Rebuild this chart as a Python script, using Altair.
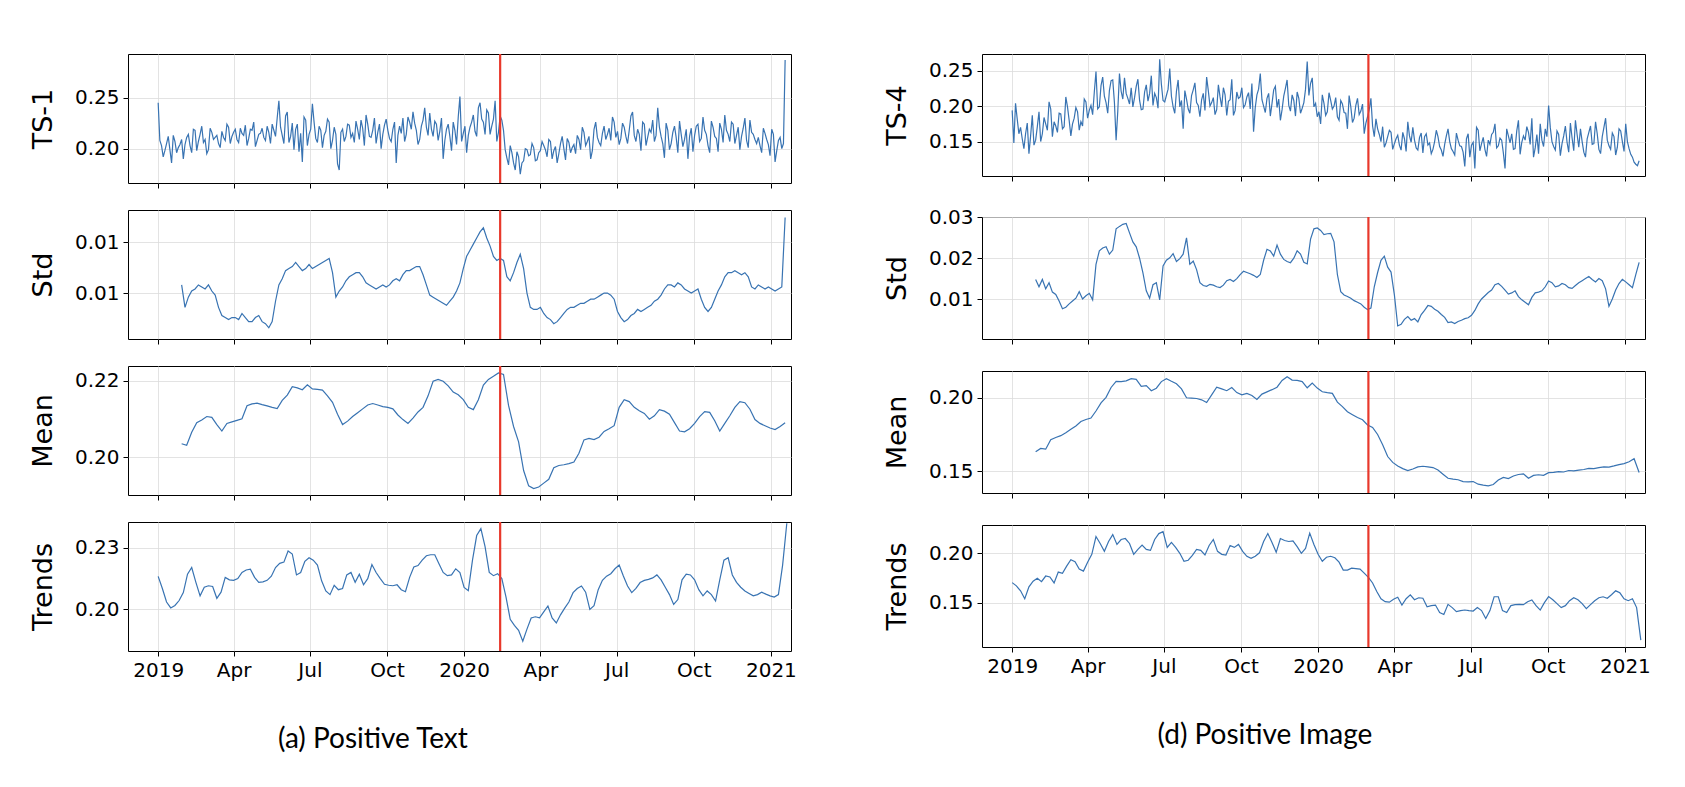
import altair as alt
import pandas as pd

# ---------------- values ----------------
# (a) Positive Text
# TS-1, in units of 1e-3: ts1 on days 0, 4, 8, ... from 2019-01-01, ts1_mid on days 2, 6, 10, ...
ts1 = [245, 203, 198, 212, 186, 207, 201, 209,
       204, 214, 196, 218, 207, 222, 209, 199, 216, 211, 205,
       217, 208, 221, 212, 219, 206, 215, 223, 210, 218, 202, 214, 220, 208, 216, 224, 212,
       247,
       213, 232, 206, 225, 219, 197, 187, 228, 214, 244,
       210, 222, 201, 217, 226, 208, 214, 179, 219, 212, 223,
       215, 227, 209, 220, 233, 212, 218, 205, 224, 214, 229, 210, 219, 186,
       222, 230, 214, 226, 236, 218, 209, 228, 221, 235, 212, 224, 217,
       190, 219, 212, 226, 204, 251, 215, 196,
       221, 233, 212, 245, 226, 238, 214, 229, 207, 232, 218,
       191, 203, 186, 197, 175, 188, 199,
       194, 201, 189, 198,
       203, 192, 207, 198, 186, 205, 200, 210, 196,
       204, 213, 199, 216, 207, 190, 219, 211, 203, 222,
       214, 208, 226, 217, 210, 221, 205, 232, 213, 219, 198, 224, 211, 216, 207, 240,
       212, 191, 218, 205, 222, 196, 214, 209, 190, 220, 213,
       224, 210, 218, 203, 227, 212, 197, 219,
       233, 214, 226, 205, 221, 212, 230, 201, 216, 209,
       211, 196, 215, 204, 219, 187, 208, 200, 287]
ts1_mid = [208, 192, 205, 199, 213, 196, 204, 190,
           211, 203, 219, 198, 214, 206, 195, 220, 209, 213, 201,
           211, 224, 205, 216, 209, 220, 213, 203, 219, 226, 208, 215, 211, 222, 205, 218, 230,
           221, 205, 236, 212, 199, 224, 215, 231, 203, 219, 226,
           206, 218, 213, 229, 200, 221, 185, 216, 207, 224, 211,
           206, 219, 228, 203, 224, 211, 230, 216, 200, 223, 218, 207, 226, 213,
           215, 207, 231, 219, 225, 204, 222, 240, 213, 219, 227, 208, 230,
           208, 224, 198, 218, 231, 207, 222, 213,
           226, 217, 240, 229, 214, 235, 222, 247, 216, 228, 199,
           184, 196, 179, 192, 186, 200, 193,
           205, 188, 196, 207,
           199, 209, 190, 202, 195, 212, 189, 206, 201,
           195, 209, 221, 203, 212, 198, 226, 206, 215, 209,
           220, 231, 211, 204, 225, 212, 218, 236, 207, 214, 226, 203, 219, 228, 213, 221,
           205, 225, 199, 216, 211, 227, 202, 219, 212, 197, 222,
           207, 231, 214, 196, 221, 210, 225, 206,
           218, 207, 224, 213, 199, 220, 208, 228, 214, 205,
           203, 220, 209, 193, 214, 198, 211, 205]
# Std: every 4 days from 2019-01-29, in units of 1e-4
std1 = [104, 93, 98, 101, 102, 104, 103, 102, 104, 101, 99, 93, 89, 88, 87, 88, 88, 87, 90, 88,
        86, 86, 88, 89, 86, 85, 83, 86, 96, 104, 107, 111, 112, 113, 115, 113, 111, 112, 114, 112,
        113, 114, 115, 116, 117, 110, 98, 101, 103, 106, 108, 109, 110, 110, 108, 105, 104, 103, 102, 103,
        104, 103, 104, 106, 107, 106, 109, 111, 111, 112, 113, 113, 109, 104, 99, 98, 97, 96, 95, 94,
        96, 98, 101, 105, 112, 118, 121, 124, 127, 130, 132, 127, 123, 118, 116, 117, 116, 108, 106, 110,
        115, 119, 112, 100, 93, 92, 92, 93, 90, 88, 87, 85, 86, 88, 90, 92, 93, 93, 94, 95,
        95, 96, 97, 97, 98, 99, 100, 100, 99, 97, 91, 88, 86, 87, 89, 90, 92, 91, 92, 93,
        94, 96, 97, 99, 102, 104, 104, 103, 105, 104, 102, 101, 100, 101, 102, 97, 93, 91, 93, 97,
        101, 104, 108, 110, 110, 111, 110, 109, 110, 108, 103, 102, 104, 103, 102, 103, 102, 101, 102, 103,
        137]
# Mean: every 6 days from 2019-01-29, in units of 1e-4
mean1 = [2035, 2031, 2065, 2090, 2097, 2106, 2104, 2085, 2068, 2088,
         2092, 2096, 2100, 2134, 2139, 2141, 2137, 2134, 2130, 2127,
         2148, 2162, 2184, 2181, 2176, 2189, 2178, 2177, 2175, 2160,
         2143, 2112, 2085, 2094, 2106, 2116, 2126, 2136, 2140, 2136,
         2132, 2130, 2126, 2110, 2098, 2088, 2102, 2118, 2130, 2160,
         2198, 2203, 2198, 2186, 2170, 2163, 2150, 2130, 2124, 2150,
         2188, 2203, 2211, 2220, 2216, 2135, 2080, 2040, 1965, 1925,
         1918, 1922, 1932, 1942, 1972, 1978, 1980, 1983, 1987, 2010,
         2045, 2049, 2046, 2052, 2067, 2074, 2082, 2130, 2150, 2145,
         2130, 2121, 2114, 2099, 2108, 2124, 2120, 2112, 2090, 2068,
         2066, 2074, 2088, 2106, 2119, 2117, 2095, 2068, 2088, 2108,
         2130, 2145, 2142, 2125, 2098, 2088, 2082, 2076, 2072, 2080,
         2090]
# Trends: every 5 days from 2019-01-01, in units of 1e-4
trend1 = [2134, 2085, 2030, 2006, 2016, 2036, 2068, 2143, 2170, 2110,
          2055, 2090, 2096, 2093, 2045, 2070, 2130, 2120, 2118, 2125,
          2150, 2160, 2163, 2130, 2110, 2112, 2118, 2135, 2170, 2187,
          2192, 2237, 2225, 2140, 2150, 2195, 2210, 2200, 2180, 2116,
          2075, 2060, 2098, 2080, 2085, 2140, 2150, 2110, 2143, 2100,
          2125, 2182, 2150, 2125, 2102, 2098, 2096, 2100, 2080, 2072,
          2130, 2172, 2178, 2200, 2218, 2222, 2222, 2185, 2150, 2137,
          2140, 2165, 2150, 2089, 2076, 2200, 2300, 2328, 2255, 2150,
          2137, 2145, 2125, 2050, 1960, 1935, 1915, 1871, 1920, 1965,
          1970, 1966, 1990, 2014, 1965, 1945, 1978, 2005, 2030, 2068,
          2085, 2095, 2070, 2000, 2015, 2080, 2118, 2135, 2145, 2165,
          2180, 2136, 2095, 2068, 2085, 2109, 2118, 2122, 2128, 2140,
          2120, 2090, 2060, 2020, 2040, 2120, 2143, 2140, 2120, 2080,
          2055, 2075, 2060, 2034, 2120, 2200, 2210, 2140, 2110, 2090,
          2075, 2065, 2055, 2060, 2070, 2062, 2055, 2050, 2060, 2180,
          2350]

# (d) Positive Image
# TS-4, in units of 1e-3: ts4 on days 0, 4, 8, ..., ts4_mid on days 2, 6, 10, ...
ts4 = [194, 204, 161, 154, 161, 133, 187, 152, 192, 161, 175, 206, 157, 172, 190, 168, 213, 180, 175, 198,
       166, 172, 206, 194, 188, 249, 199, 241, 205, 222, 237, 152, 246, 210, 218, 203, 199, 228, 208, 196,
       230, 218, 201, 212, 266, 208, 215, 253, 199, 221, 199, 168, 210, 190, 223, 205, 185, 218, 241, 200,
       212, 195, 213, 226, 187, 209, 187, 220, 213, 198, 213, 196, 164, 216, 246, 200, 211, 186, 223, 198,
       180, 214, 237, 193, 208, 220, 190, 205, 263, 232, 199, 185, 175, 204, 192, 208, 200, 185, 208, 191,
       168, 199, 183, 211, 193, 161, 185, 211, 157, 168, 150, 142, 157, 163, 147, 159, 138, 154, 178, 149,
       152, 138, 162, 157, 145, 133, 150, 157, 138, 146, 168, 140, 131, 152, 143, 115, 161, 145, 112, 166,
       147, 139, 152, 160, 175, 144, 152, 112, 158, 161, 140, 180, 149, 152, 163, 183, 141, 133, 152, 168,
       201, 150, 138, 160, 147, 172, 135, 155, 180, 142, 150, 128, 163, 146, 178, 139, 157, 183, 144, 162,
       131, 168, 150, 175, 140, 128, 118, 123]
ts4_mid = [148, 182, 170, 140, 176, 158, 145, 171,
           150, 184, 166, 196, 178, 163, 189, 171, 199, 158, 183,
           192, 178, 210, 183, 201, 220, 196, 229, 214, 190, 236, 205, 193, 221, 240, 211, 226,
           212, 238, 195, 220, 207, 243, 218, 197, 231, 206, 224,
           214, 190, 237, 208, 222, 196, 215, 233, 201, 209, 194,
           222, 205, 188, 230, 199, 216, 207, 238, 194, 211, 226, 202, 219, 232,
           198, 224, 209, 191, 218, 204, 228, 210, 195, 225, 201, 216, 186,
           211, 197, 224, 215, 240, 204, 192, 216,
           187, 219, 196, 212, 180, 203, 190, 215, 177, 201, 188,
           203, 176, 195, 172, 182, 160, 171,
           148, 166, 139, 154,
           145, 163, 136, 158, 170, 141, 156, 134, 161,
           148, 139, 166, 143, 129, 158, 150, 136, 162, 144,
           135, 154, 128, 149, 170, 137, 156, 129, 146, 163, 141, 155, 134, 168, 148, 139,
           165, 132, 158, 171, 146, 128, 160, 175, 143, 157, 170,
           143, 165, 130, 158, 149, 176, 137, 160,
           168, 135, 154, 172, 147, 161, 133, 170, 152, 139,
           157, 142, 165, 136, 150, 132, 121, 116]
# Std: every 4 days from 2019-01-29, in units of 1e-4
std4 = [148, 130, 148, 125, 140, 117, 111, 95, 76, 80, 88, 95, 102, 118, 100, 108, 114, 98, 185, 218,
        225, 228, 210, 220, 272, 278, 283, 285, 262, 240, 228, 200, 164, 120, 102, 135, 140, 98, 181, 195,
        201, 211, 192, 199, 210, 250, 185, 193, 172, 140, 133, 131, 136, 134, 130, 128, 134, 145, 148, 143,
        150, 160, 168, 165, 162, 158, 153, 160, 195, 222, 218, 205, 232, 210, 197, 192, 189, 200, 218, 210,
        190, 186, 247, 272, 274, 268, 258, 260, 261, 240, 160, 118, 110, 106, 102, 96, 92, 88, 80, 74,
        78, 130, 165, 195, 205, 178, 166, 110, 34, 38, 50, 57, 48, 52, 44, 62, 72, 84, 82, 75,
        70, 62, 55, 42, 44, 40, 45, 48, 52, 54, 60, 72, 88, 100, 108, 116, 122, 135, 138, 131,
        122, 112, 115, 120, 106, 98, 92, 86, 104, 115, 117, 120, 130, 144, 140, 130, 132, 138, 135, 128,
        126, 133, 140, 145, 150, 155, 148, 142, 150, 145, 125, 82, 100, 122, 138, 148, 142, 135, 128, 160,
        190]
# Mean: every 6 days from 2019-01-29, in units of 1e-4
mean4 = [1632, 1655, 1650, 1715, 1730, 1742, 1762, 1785, 1808, 1838,
         1852, 1862, 1910, 1965, 2003, 2070, 2112, 2110, 2115, 2130,
         2125, 2078, 2082, 2048, 2065, 2110, 2130, 2112, 2095, 2060,
         2000, 1998, 1995, 1986, 1968, 2020, 2072, 2060, 2048, 2070,
         2035, 2020, 2030, 2015, 1988, 2025, 2040, 2055, 2072, 2118,
         2143, 2120, 2118, 2110, 2068, 2100, 2066, 2041, 2035, 2030,
         1970, 1940, 1905, 1885, 1866, 1850, 1815, 1798, 1750, 1680,
         1600, 1560, 1536, 1518, 1505, 1515, 1530, 1534, 1530, 1525,
         1508, 1480, 1452, 1446, 1442, 1430, 1428, 1430, 1412, 1405,
         1400, 1410, 1440, 1458, 1450, 1468, 1478, 1482, 1452, 1472,
         1476, 1472, 1490, 1492, 1498, 1495, 1505, 1502, 1508, 1512,
         1520, 1518, 1525, 1530, 1528, 1536, 1545, 1552, 1565, 1585,
         1492]
# Trends: every 5 days from 2019-01-01, in units of 1e-4
trend4 = [1703, 1670, 1620, 1540, 1660, 1718, 1747, 1713, 1770, 1760,
          1700, 1810, 1797, 1870, 1935, 1915, 1840, 1820, 1910, 1990,
          2170, 2100, 2020, 2120, 2190, 2090, 2140, 2150, 2100, 1990,
          2040, 2084, 2040, 2030, 2140, 2200, 2220, 2060, 2110, 2060,
          2000, 1920, 1930, 1980, 2040, 2030, 1983, 2080, 2140, 2020,
          1990, 1983, 2080, 2060, 2090, 2020, 1970, 1950, 1970, 2005,
          2120, 2200, 2110, 2010, 2150, 2130, 2120, 2125, 2068, 2000,
          2050, 2205, 2090, 1990, 1920, 1960, 1970, 1955, 1910, 1830,
          1830, 1850, 1845, 1840, 1800, 1757, 1700, 1613, 1540, 1510,
          1505, 1535, 1555, 1476, 1540, 1580, 1530, 1550, 1545, 1459,
          1470, 1476, 1400, 1380, 1483, 1450, 1410, 1420, 1426, 1420,
          1415, 1450, 1420, 1339, 1420, 1560, 1560, 1420, 1400, 1470,
          1480, 1482, 1480, 1510, 1527, 1470, 1425, 1500, 1562, 1530,
          1490, 1450, 1470, 1520, 1550, 1530, 1490, 1440, 1480, 1520,
          1550, 1560, 1545, 1580, 1620, 1600, 1540, 1520, 1540, 1450,
          1120]

change_a = "2020-02-13"
change_d = "2020-03-01"

month_ticks = [(2019, 1), (2019, 4), (2019, 7), (2019, 10), (2020, 1),
               (2020, 4), (2020, 7), (2020, 10), (2021, 1)]

# ---------------- styling ----------------
BLUE = "#3873b2"
RED = "#e8382b"
XDOM = [alt.DateTime(year=2018, month=11, date=26, utc=True),
        alt.DateTime(year=2021, month=1, date=25, utc=True)]
XTICKS = [alt.DateTime(year=y, month=m, date=1, utc=True) for y, m in month_ticks]
XLABEL = ("utcFormat(datum.value, '%m') == '01' ? utcFormat(datum.value, '%Y')"
          " : utcFormat(datum.value, '%b')")


def frame(values, start, step, unit):
    dates = pd.date_range(start, periods=len(values), freq=f"{step}D")
    return pd.DataFrame({"date": dates, "v": [x * unit for x in values]})


def interleaved(main, mid, start, unit):
    a = frame(main, start, 4, unit)
    b = frame(mid, pd.Timestamp(start) + pd.Timedelta(days=2), 4, unit)
    df = pd.concat([a, b]).sort_values("date").reset_index(drop=True)
    df["date"] = df["date"].dt.strftime("%Y-%m-%d")
    return df


def plain(values, start, step, unit):
    df = frame(values, start, step, unit)
    df["date"] = df["date"].dt.strftime("%Y-%m-%d")
    return df


def panel(df, ydom, yticks, ytitle, w, h, bottom, red):
    xaxis = alt.Axis(values=XTICKS, labelExpr=XLABEL, labels=bottom, title=None,
                     grid=True, labelFlush=False, labelOverlap=False)
    line = alt.Chart(df).mark_line(color=BLUE, strokeWidth=1.2, clip=True).encode(
        x=alt.X("date:T", scale=alt.Scale(type="utc", domain=XDOM), axis=xaxis),
        y=alt.Y("v:Q", scale=alt.Scale(domain=ydom, nice=False, zero=False),
                axis=alt.Axis(values=yticks, format=".2f", title=ytitle, grid=True)),
    )
    rule = alt.Chart(pd.DataFrame({"date": [red]})).mark_rule(
        color=RED, strokeWidth=2.2).encode(x=alt.X("date:T"))
    return alt.layer(line, rule).properties(width=w, height=h)


WL, HL = 663, 129
WR, HR = 663, 122

left = alt.vconcat(
    panel(interleaved(ts1, ts1_mid, "2019-01-01", 1e-3), [0.1663, 0.2928], [0.20, 0.25], "TS-1", WL, HL, False, change_a),
    panel(plain(std1, "2019-01-29", 4, 1e-4), [0.00775, 0.01407], [0.0100, 0.0125], "Std", WL, HL, False, change_a),
    panel(plain(mean1, "2019-01-29", 6, 1e-4), [0.1901, 0.2238], [0.20, 0.22], "Mean", WL, HL, False, change_a),
    panel(plain(trend1, "2019-01-01", 5, 1e-4), [0.1831, 0.2355], [0.200, 0.225], "Trends", WL, HL, True, change_a),
    spacing=19,
    title=alt.TitleParams("(a) Positive Text", orient="bottom", anchor="middle", dx=-40,
                          offset=45, fontSize=28, font="Lato", fontWeight="normal", color="black"),
)

right = alt.vconcat(
    panel(interleaved(ts4, ts4_mid, "2019-01-01", 1e-3), [0.1014, 0.2736], [0.15, 0.20, 0.25], "TS-4", WR, HR, False, change_d),
    panel(plain(std4, "2019-01-29", 4, 1e-4), [0.0002, 0.0301], [0.01, 0.02, 0.03], "Std", WR, HR, False, change_d),
    panel(plain(mean4, "2019-01-29", 6, 1e-4), [0.1352, 0.2182], [0.15, 0.20], "Mean", WR, HR, False, change_d),
    panel(plain(trend4, "2019-01-01", 5, 1e-4), [0.1051, 0.2287], [0.15, 0.20], "Trends", WR, HR, True, change_d),
    spacing=24,
    title=alt.TitleParams("(d) Positive Image", orient="bottom", anchor="middle", dx=-2,
                          offset=45, fontSize=28, font="Lato", fontWeight="normal", color="black"),
)

chart = alt.hconcat(left, right, spacing=85).properties(
    padding={"left": 20, "top": 44, "right": 5, "bottom": 5}
).configure_view(
    stroke="black", strokeWidth=1
).configure_axis(
    labelFont="DejaVu Sans", titleFont="DejaVu Sans", labelFontSize=20, titleFontSize=27,
    titleFontWeight="normal", labelColor="black", titleColor="black", tickColor="black",
    tickSize=5, tickWidth=1, domain=False, gridColor="#dcdcdc", gridWidth=0.8, labelPadding=4
).configure_axisY(titlePadding=17)

chart.save("out.html", embed_options={"renderer": "svg", "actions": False})
